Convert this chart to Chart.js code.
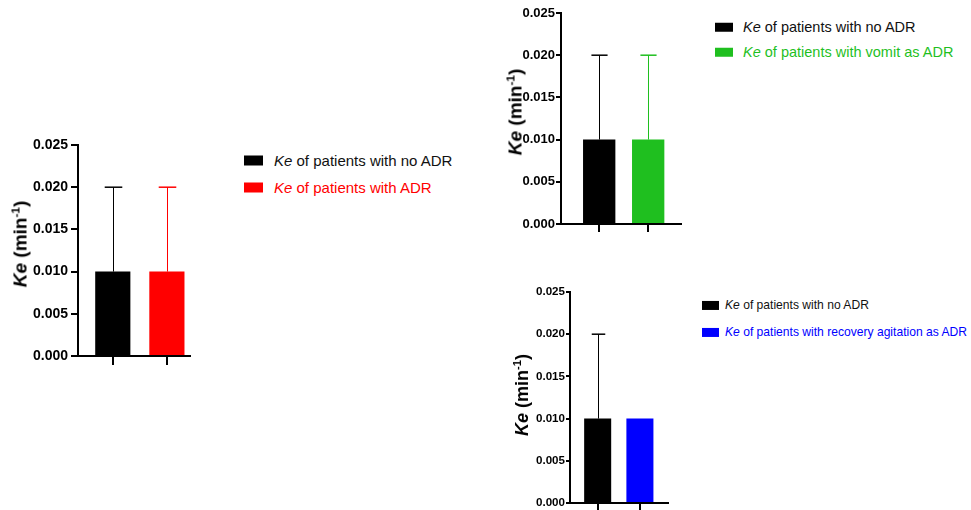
<!DOCTYPE html>
<html>
<head>
<meta charset="utf-8">
<script src="https://cdn.jsdelivr.net/npm/chart.js@4/dist/chart.umd.min.js"></script>
<style>
  html, body { margin: 0; padding: 0; background: #fff; }
  body { width: 971px; height: 510px; overflow: hidden; position: relative;
         font-family: "Liberation Sans", Arial, sans-serif; }
  canvas { position: absolute; }
  .ytitle { position: absolute; font-weight: bold; white-space: nowrap; color: #000;
            transform: translate(-50%, -50%) rotate(-90deg); line-height: 1; }
  .ytitle sup { font-size: 0.62em; vertical-align: 0.6em; line-height: 0; }
  .lrow { position: absolute; white-space: nowrap; display: flex; align-items: center;
          transform: translateY(-50%); line-height: 1; }
  .lrow .sw { display: inline-block; flex: none; }
</style>
</head>
<body>
<script>
// Elimination rate constant (Ke, min^-1): mean and SD per patient group
const yTicks = [0, 0.005, 0.010, 0.015, 0.020, 0.025];

const adrGroups = ['no ADR', 'ADR'];
const adrMeans = [0.010, 0.010];
const adrSD = [0.010, 0.010];
const adrColors = ['#000000', '#ff0000'];
const adrLegend = ['Ke of patients with no ADR', 'Ke of patients with ADR'];

const vomitGroups = ['no ADR', 'vomit'];
const vomitMeans = [0.010, 0.010];
const vomitSD = [0.010, 0.010];
const vomitColors = ['#000000', '#1fbf1f'];
const vomitLegend = ['Ke of patients with no ADR', 'Ke of patients with vomit as ADR'];

const agitationGroups = ['no ADR', 'recovery agitation'];
const agitationMeans = [0.010, 0.010];
const agitationSD = [0.010, 0];
const agitationColors = ['#000000', '#0000ff'];
const agitationLegend = ['Ke of patients with no ADR', 'Ke of patients with recovery agitation as ADR'];

const FONT = '"Liberation Sans", Arial, sans-serif';

// Upward SD whiskers with a cap, drawn on top of each bar
const errorBars = {
  id: 'errorBars',
  afterDatasetsDraw(chart) {
    const ctx = chart.ctx;
    const y = chart.scales.y;
    chart.data.datasets.forEach((ds, di) => {
      const meta = chart.getDatasetMeta(di);
      meta.data.forEach((bar, i) => {
        const sd = ds.errors[i];
        if (!sd) return;
        const mean = ds.data[i].y;
        const yTop = y.getPixelForValue(mean + sd);
        const yBase = y.getPixelForValue(mean);
        const half = bar.width * 0.25;
        const x = Math.round(bar.x) + 0.5;
        ctx.save();
        ctx.strokeStyle = ds.backgroundColor[i];
        ctx.lineWidth = 1;
        ctx.beginPath();
        ctx.moveTo(x, yBase);
        ctx.lineTo(x, yTop);
        ctx.stroke();
        ctx.lineWidth = 1.5;
        ctx.beginPath();
        ctx.moveTo(x - half, yTop);
        ctx.lineTo(x + half, yTop);
        ctx.stroke();
        ctx.restore();
      });
    });
  }
};

function makePanel(cfg) {
  const canvas = document.createElement('canvas');
  canvas.width = cfg.box.w;
  canvas.height = cfg.box.h;
  canvas.style.left = cfg.box.x + 'px';
  canvas.style.top = cfg.box.y + 'px';
  canvas.style.width = cfg.box.w + 'px';
  canvas.style.height = cfg.box.h + 'px';
  document.body.appendChild(canvas);

  const points = cfg.means.map((m, i) => ({ x: cfg.firstPos + i, y: m }));

  new Chart(canvas, {
    type: 'bar',
    data: {
      labels: cfg.groups,
      datasets: [{
        data: points,
        backgroundColor: cfg.colors,
        borderWidth: 0,
        errors: cfg.sd
      }]
    },
    options: {
      responsive: false,
      animation: false,
      devicePixelRatio: 1,
      layout: { padding: { top: cfg.padTop, right: cfg.padRight, left: 0, bottom: 0 } },
      plugins: { legend: { display: false }, tooltip: { enabled: false } },
      datasets: { bar: { barPercentage: 1, categoryPercentage: cfg.barFrac } },
      scales: {
        x: {
          type: 'linear', offset: false, min: 0, max: cfg.xMax,
          grid: { offset: false, drawOnChartArea: false, drawTicks: true,
                  tickLength: cfg.xTick, lineWidth: 2, color: '#000' },
          border: { display: true, color: '#000', width: 2 },
          ticks: { display: false },
          afterBuildTicks: s => { s.ticks = points.map(p => ({ value: p.x })); },
          afterFit: s => { s.height = cfg.xHeight; }
        },
        y: {
          min: 0, max: 0.025,
          afterBuildTicks: s => { s.ticks = yTicks.map(v => ({ value: v })); },
          ticks: {
            font: { family: FONT, weight: 'bold', size: cfg.tickFont },
            color: '#000', padding: cfg.tickPad,
            callback: v => Number(v).toFixed(3)
          },
          grid: { drawOnChartArea: false, tickLength: cfg.yTick, lineWidth: 2, color: '#000' },
          border: { color: '#000', width: 2 },
          afterFit: s => { s.width = cfg.yWidth; }
        }
      }
    },
    plugins: [errorBars]
  });

  // rotated axis title: Ke (min^-1)
  const t = document.createElement('div');
  t.className = 'ytitle';
  t.style.left = cfg.title.x + 'px';
  t.style.top = cfg.title.y + 'px';
  t.style.fontSize = cfg.title.size + 'px';
  t.innerHTML = '<i>Ke</i> (min<sup>-1</sup>)';
  document.body.appendChild(t);

  // legend rows: swatch + label, the second row tinted with its series colour
  cfg.legend.forEach((label, i) => {
    const row = document.createElement('div');
    row.className = 'lrow';
    row.style.left = cfg.leg.x + 'px';
    row.style.top = cfg.leg.rows[i] + 'px';
    row.style.fontSize = cfg.leg.size + 'px';
    row.style.color = i === 0 ? '#111' : cfg.colors[i];
    const sw = document.createElement('span');
    sw.className = 'sw';
    sw.style.width = cfg.leg.sw[0] + 'px';
    sw.style.height = cfg.leg.sw[1] + 'px';
    sw.style.background = cfg.colors[i];
    sw.style.marginRight = cfg.leg.gap + 'px';
    row.appendChild(sw);
    const txt = document.createElement('span');
    const sp = label.indexOf(' ');
    const it = document.createElement('i');
    it.textContent = label.slice(0, sp);
    txt.appendChild(it);
    txt.appendChild(document.createTextNode(label.slice(sp)));
    row.appendChild(txt);
    document.body.appendChild(row);
  });
}

makePanel({
  groups: adrGroups, means: adrMeans, sd: adrSD, colors: adrColors, legend: adrLegend,
  box: { x: 0, y: 130, w: 200, h: 238 },
  padTop: 15, padRight: 10, xHeight: 12, yWidth: 78,
  firstPos: 0.643, xMax: 2.07, barFrac: 0.65,
  tickFont: 14, tickPad: 3, yTick: 7, xTick: 9,
  title: { x: 20, y: 244, size: 19 },
  leg: { x: 244, rows: [160, 187], size: 15, sw: [19, 10], gap: 11 }
});

makePanel({
  groups: vomitGroups, means: vomitMeans, sd: vomitSD, colors: vomitColors, legend: vomitLegend,
  box: { x: 480, y: 0, w: 210, h: 236 },
  padTop: 13, padRight: 9, xHeight: 12, yWidth: 81,
  firstPos: 0.78, xMax: 2.45, barFrac: 0.66,
  tickFont: 13, tickPad: 1, yTick: 5, xTick: 8,
  title: { x: 515, y: 112, size: 19 },
  leg: { x: 715, rows: [27, 52], size: 14.5, sw: [18, 9], gap: 10 }
});

makePanel({
  groups: agitationGroups, means: agitationMeans, sd: agitationSD, colors: agitationColors, legend: agitationLegend,
  box: { x: 490, y: 276, w: 190, h: 238 },
  padTop: 16, padRight: 12, xHeight: 11, yWidth: 80,
  firstPos: 0.655, xMax: 2.32, barFrac: 0.64,
  tickFont: 11.6, tickPad: 1, yTick: 4, xTick: 8,
  title: { x: 522, y: 395, size: 18 },
  leg: { x: 702, rows: [305, 332], size: 12.1, sw: [17, 9], gap: 6 }
});
</script>
</body>
</html>
